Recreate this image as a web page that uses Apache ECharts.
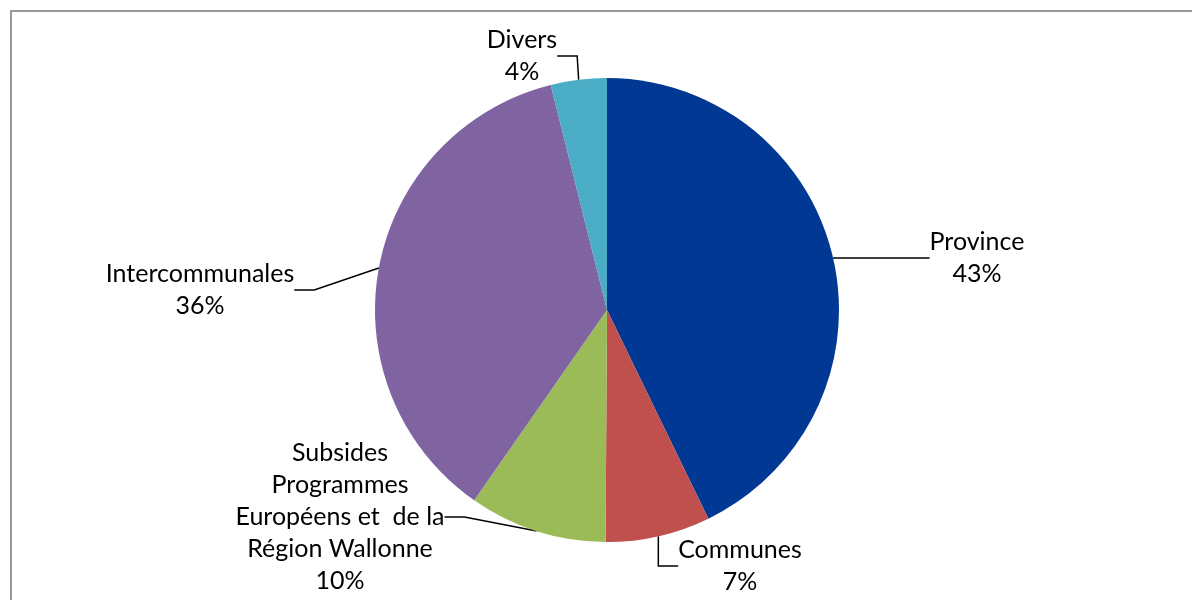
<!DOCTYPE html>
<html>
<head>
<meta charset="utf-8">
<script src="https://cdn.jsdelivr.net/npm/echarts@6/dist/echarts.min.js"></script>
<style>
html,body{margin:0;padding:0;background:#fff;}
#chart{width:1192px;height:600px;}
</style>
</head>
<body>
<div id="chart"></div>
<script>
const categories = ["Province", "Communes", "Subsides\nProgrammes\nEuropéens et  de la\nRégion Wallonne", "Intercommunales", "Divers"];
const values = [42.8, 7.3, 9.6, 36.4, 3.9];
const colors = ["#003893", "#C0504D", "#9BBB59", "#8064A2", "#4BACC6"];
// label centre positions (text placement only)
const labelPos = [[977, 258], [740, 566], [340, 517], [200, 290], [522, 56]];

const chart = echarts.init(document.getElementById('chart'));
chart.setOption({
  animation: false,
  graphic: [{
    type: 'rect', shape: {x: 11, y: 11, width: 1300, height: 700},
    style: {fill: 'none', stroke: '#999', lineWidth: 2}, silent: true
  }],
  series: [{
    type: 'pie',
    center: [607, 310],
    radius: 232,
    startAngle: 90,
    clockwise: true,
    data: categories.map((c, i) => ({name: c, value: values[i], itemStyle: {color: colors[i]}})),
    label: {
      show: true,
      formatter: p => p.name + '\n' + Math.round(p.percent) + '%',
      fontFamily: 'Lato',
      fontSize: 25,
      lineHeight: 32,
      color: '#000',
      align: 'center'
    },
    labelLine: {show: true, length: 20, length2: 20, lineStyle: {color: '#000', width: 1.5}},
    labelLayout: function (p) {
      const pos = labelPos[p.dataIndex];
      return {x: pos[0], y: pos[1], align: 'center', verticalAlign: 'middle'};
    }
  }]
});
</script>
</body>
</html>
